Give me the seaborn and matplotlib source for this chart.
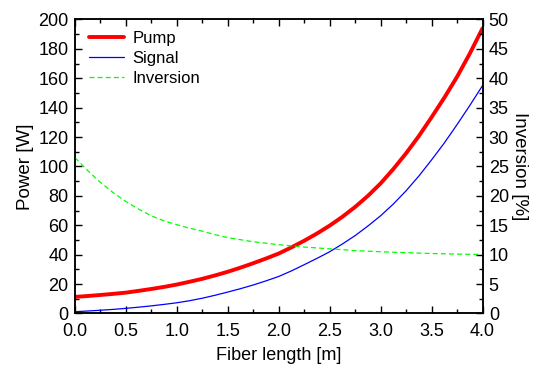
import numpy as np
import pandas as pd
import matplotlib
matplotlib.use("Agg")
import matplotlib.pyplot as plt
import seaborn as sns
from matplotlib.ticker import MultipleLocator, FormatStrFormatter

# values (fiber position in m)
fiber_length = [0.0, 0.125, 0.25, 0.375, 0.5, 0.625, 0.75, 0.875, 1.0,
                1.125, 1.25, 1.375, 1.5, 1.625, 1.75, 1.875, 2.0,
                2.125, 2.25, 2.375, 2.5, 2.625, 2.75, 2.875, 3.0,
                3.125, 3.25, 3.375, 3.5, 3.625, 3.75, 3.875, 4.0]
pump_power = [11.3, 11.9, 12.6, 13.35, 14.2, 15.4, 16.7, 18.1, 19.7,
              21.6, 23.6, 25.9, 28.4, 31.2, 34.2, 37.4, 40.8,
              45.0, 49.5, 54.4, 59.8, 65.8, 72.5, 80.0, 88.5,
              98.3, 109.0, 120.7, 133.5, 146.8, 161.0, 176.8, 194.0]
signal_power = [1.2, 1.7, 2.2, 2.8, 3.5, 4.3, 5.2, 6.2, 7.3,
                8.7, 10.4, 12.4, 14.6, 16.9, 19.4, 22.2, 25.2,
                29.0, 33.2, 37.5, 42.0, 47.3, 53.0, 59.5, 66.5,
                74.5, 83.5, 93.5, 104.5, 116.0, 128.5, 141.5, 155.0]
inversion = [26.5, 24.3, 22.3, 20.55, 19.05, 17.75, 16.6, 15.75, 15.1,
             14.5, 14.0, 13.4, 12.9, 12.55, 12.2, 11.95, 11.7,
             11.5, 11.3, 11.15, 11.0, 10.85, 10.7, 10.6, 10.5,
             10.42, 10.35, 10.27, 10.2, 10.15, 10.1, 10.07, 10.05]

df = pd.DataFrame({
    "length": fiber_length,
    "pump": pump_power,
    "signal": signal_power,
    "inversion": inversion,
})

sns.set_style("ticks")
plt.rcParams["font.family"] = ["Liberation Sans", "DejaVu Sans"]
plt.rcParams["text.color"] = "black"
plt.rcParams["axes.labelcolor"] = "black"
plt.rcParams["xtick.color"] = "black"
plt.rcParams["ytick.color"] = "black"

fig = plt.figure(figsize=(5.34, 3.65), dpi=100)
ax = fig.add_axes([0.1404, 0.1411, 0.7632, 0.8055])
ax2 = ax.twinx()

sns.lineplot(data=df, x="length", y="pump", ax=ax, color="#ff0000",
             linewidth=2.8, label="Pump", legend=False)
sns.lineplot(data=df, x="length", y="signal", ax=ax, color="#0000ff",
             linewidth=0.9, label="Signal", legend=False)
sns.lineplot(data=df, x="length", y="inversion", ax=ax2, color="#00ff00",
             linewidth=0.9, linestyle=(0, (4, 2.5)), label="Inversion", legend=False)

ax.set_xlim(0, 4)
ax.set_ylim(0, 200)
ax2.set_ylim(0, 50)

ax.xaxis.set_major_locator(MultipleLocator(0.5))
ax.xaxis.set_minor_locator(MultipleLocator(0.25))
ax.yaxis.set_major_locator(MultipleLocator(20))
ax.yaxis.set_minor_locator(MultipleLocator(10))
ax2.yaxis.set_major_locator(MultipleLocator(5))
ax2.yaxis.set_minor_locator(MultipleLocator(2.5))
ax.xaxis.set_major_formatter(FormatStrFormatter("%.1f"))

ax.tick_params(axis="x", which="both", direction="in", top=True, bottom=True)
ax.tick_params(axis="y", which="both", direction="in", left=True, right=False)
ax2.tick_params(axis="y", which="both", direction="in", right=True, left=False)
for a in (ax, ax2):
    a.tick_params(which="major", length=5, width=1, labelsize=13, pad=4.5,
                  colors="black")
    a.tick_params(which="minor", length=3, width=1, colors="black")
    for s in a.spines.values():
        s.set_visible(True)
        s.set_linewidth(1.1)
        s.set_color("black")
ax.tick_params(axis="x", which="major", pad=7)

ax.set_xlabel("Fiber length [m]", fontsize=13, labelpad=5)
ax.set_ylabel("Power [W]", fontsize=13.5, labelpad=3)
ax2.set_ylabel("Inversion [%]", fontsize=13.5, rotation=270, labelpad=14)

h1, l1 = ax.get_legend_handles_labels()
h2, l2 = ax2.get_legend_handles_labels()
ax.legend(h1 + h2, l1 + l2, loc="upper left", frameon=False, fontsize=12,
          handlelength=2.1, handletextpad=0.5, labelspacing=0.32,
          borderaxespad=0.0, borderpad=0.0, bbox_to_anchor=(0.035, 0.962))

fig.savefig("out.png", dpi=100)
